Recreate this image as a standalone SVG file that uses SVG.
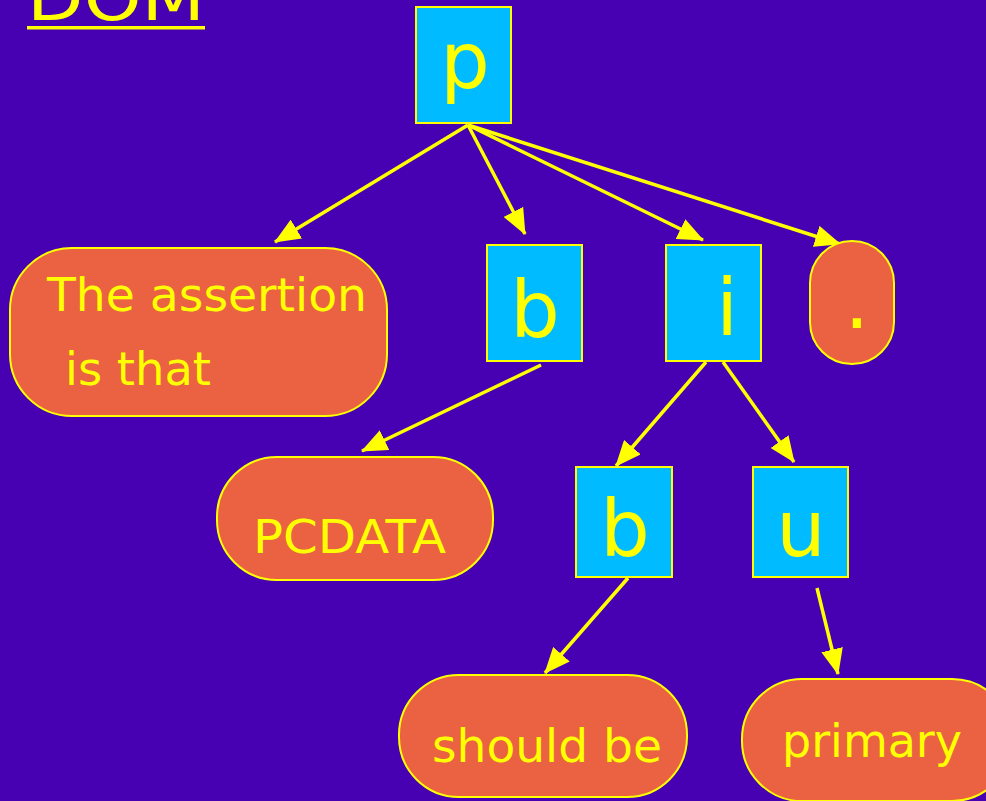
<svg xmlns="http://www.w3.org/2000/svg" width="986" height="801" viewBox="0 0 986 801">
<defs>
<marker id="ah" markerWidth="26" markerHeight="22" refX="25" refY="11" orient="auto" markerUnits="userSpaceOnUse" viewBox="0 0 26 22">
<path d="M0,0 L26,11 L0,22 z" fill="#FFFF00"/>
</marker>
<style>
.el{fill:#00BBFF;stroke:#FFFF00;stroke-width:2}
.tx{fill:#EB6242;stroke:#FFFF00;stroke-width:2}
.t{fill:#FFFF00;font-family:"DejaVu Sans","Liberation Sans",sans-serif}
.big{font-size:78px}
.mid{font-size:46px}
.c{stroke:#FFFF00;stroke-width:3.5;fill:none}
</style>
</defs>
<rect width="986" height="801" fill="#4700B2"/>
<g id="title">
<text class="t" x="27" y="20" font-size="62" textLength="178" lengthAdjust="spacingAndGlyphs">DOM</text>
<rect x="27" y="26" width="178" height="3.5" fill="#FFFF00"/>
</g>
<g id="connectors">
<line class="c" x1="468" y1="125" x2="275" y2="242" marker-end="url(#ah)"/>
<line class="c" x1="468" y1="125" x2="525" y2="234" marker-end="url(#ah)"/>
<line class="c" x1="468" y1="125" x2="703" y2="240" marker-end="url(#ah)"/>
<line class="c" x1="468" y1="125" x2="840" y2="244" marker-end="url(#ah)"/>
<line class="c" x1="541" y1="365" x2="362" y2="451" marker-end="url(#ah)"/>
<line class="c" x1="706" y1="362" x2="616" y2="466" marker-end="url(#ah)"/>
<line class="c" x1="723" y1="362" x2="794" y2="462" marker-end="url(#ah)"/>
<line class="c" x1="628" y1="578" x2="545" y2="673" marker-end="url(#ah)"/>
<line class="c" x1="817" y1="588" x2="838" y2="674" marker-end="url(#ah)"/>
</g>
<g id="node-p">
<rect class="el" x="416" y="7" width="95" height="116"/>
<text class="t big" x="465" y="88" text-anchor="middle">p</text>
</g>
<g id="node-assertion">
<rect class="tx" x="10" y="248" width="377" height="168" rx="62" ry="62"/>
<text class="t mid" x="47" y="311" textLength="320" lengthAdjust="spacingAndGlyphs">The assertion</text>
<text class="t mid" x="65" y="385" textLength="146" lengthAdjust="spacingAndGlyphs">is that</text>
</g>
<g id="node-b1">
<rect class="el" x="487" y="245" width="95" height="116"/>
<text class="t big" x="535" y="337" text-anchor="middle">b</text>
</g>
<g id="node-i">
<rect class="el" x="666" y="245" width="95" height="116"/>
<text class="t big" x="727" y="335" text-anchor="middle">i</text>
</g>
<g id="node-dot">
<rect class="tx" x="810" y="241" width="84" height="123" rx="42" ry="42"/>
<text class="t big" x="857" y="328" text-anchor="middle">.</text>
</g>
<g id="node-pcdata">
<rect class="tx" x="217" y="457" width="276" height="123" rx="60" ry="60"/>
<text class="t mid" x="253" y="553" textLength="193" lengthAdjust="spacingAndGlyphs">PCDATA</text>
</g>
<g id="node-b2">
<rect class="el" x="576" y="467" width="96" height="110"/>
<text class="t big" x="625" y="556" text-anchor="middle">b</text>
</g>
<g id="node-u">
<rect class="el" x="753" y="467" width="95" height="110"/>
<text class="t big" x="801" y="556" text-anchor="middle">u</text>
</g>
<g id="node-shouldbe">
<rect class="tx" x="399" y="675" width="288" height="122" rx="60" ry="60"/>
<text class="t mid" x="432" y="762" textLength="230" lengthAdjust="spacingAndGlyphs">should be</text>
</g>
<g id="node-primary">
<rect class="tx" x="742" y="679" width="270" height="122" rx="60" ry="60"/>
<text class="t mid" x="782" y="757" textLength="180" lengthAdjust="spacingAndGlyphs">primary</text>
</g>
</svg>
